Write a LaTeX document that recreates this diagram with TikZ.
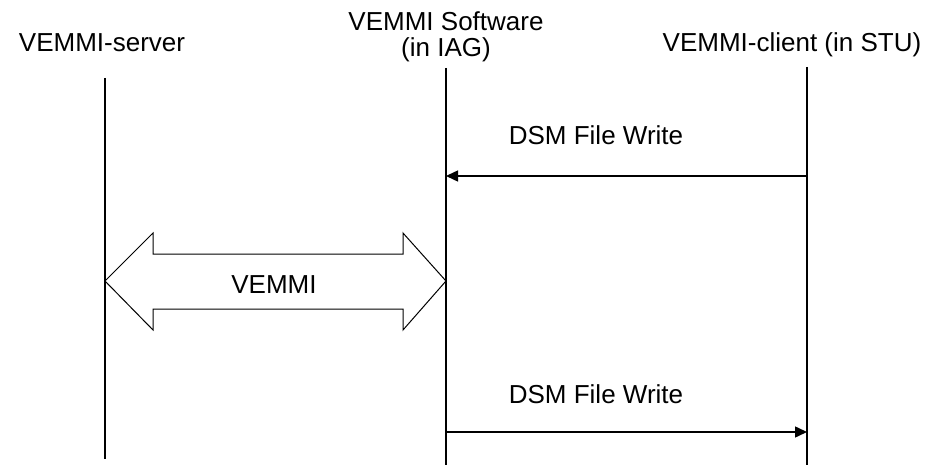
\documentclass[tikz,border=0pt]{standalone}
\usepackage{fontspec}
\setmainfont{Liberation Sans}
\usetikzlibrary{arrows.meta}

\tikzset{
  lbl/.style={font=\fontsize{26}{31}\selectfont, inner sep=0pt, anchor=base},
  lifeline/.style={line width=1.5pt},
  msg/.style={line width=1.5pt, -{Triangle[length=12pt,width=11pt]}},
  blockarrow/.style={line width=1pt, line join=miter}
}

\begin{document}
\begin{tikzpicture}[x=1pt,y=-1pt]
  \useasboundingbox (0,0) rectangle (929,465);

  % participant headings
  \node[lbl] (server) at (102,52) {VEMMI-server};
  \node[lbl] (sw1) at (446,31) {VEMMI Software};
  \node[lbl] (sw2) at (446,57) {(in IAG)};
  \node[lbl] (client) at (792,52) {VEMMI-client (in STU)};

  % lifelines
  \coordinate (sTop) at (105,78);  \coordinate (sBot) at (105,459);
  \coordinate (iTop) at (446,68);  \coordinate (iBot) at (446,465);
  \coordinate (cTop) at (807,67);  \coordinate (cBot) at (807,465);
  \draw[lifeline] (sTop) -- (sBot);
  \draw[lifeline] (iTop) -- (iBot);
  \draw[lifeline] (cTop) -- (cBot);

  % client -> IAG
  \coordinate (m1s) at (807,176);
  \coordinate (m1e) at (446,176);
  \draw[msg] (m1s) -- (m1e);
  \node[lbl] (m1) at (596,145) {DSM File Write};

  % VEMMI exchange between server and IAG
  \draw[blockarrow] (105,281) -- (153,233) -- (153,254) -- (403,254) -- (403,233)
    -- (446,281) -- (403,330) -- (403,309) -- (153,309) -- (153,330) -- cycle;
  \node[lbl] (vemmi) at (274,293) {VEMMI};

  % IAG -> client
  \coordinate (m2s) at (446,432);
  \coordinate (m2e) at (807,432);
  \draw[msg] (m2s) -- (m2e);
  \node[lbl] (m2) at (596,403) {DSM File Write};
\end{tikzpicture}
\end{document}
